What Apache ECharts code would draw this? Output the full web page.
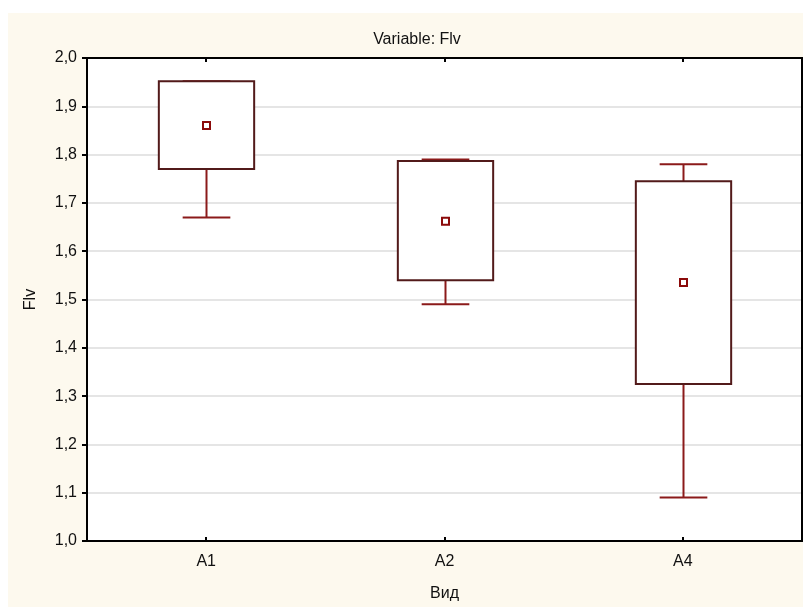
<!DOCTYPE html>
<html>
<head>
<meta charset="utf-8">
<script src="https://cdn.jsdelivr.net/npm/echarts@6/dist/echarts.min.js"></script>
<style>
  html, body { margin: 0; padding: 0; background: #ffffff; width: 803px; height: 607px; overflow: hidden; }
  #chart { position: absolute; left: 8px; top: 13px; width: 795px; height: 594px; background: #fdf9ee; }
</style>
</head>
<body>
<div id="chart"></div>
<script>
// Data
const categories = ['A1', 'A2', 'A4'];
const whiskerLow = [1.67, 1.49, 1.09];
const boxLow     = [1.77, 1.54, 1.325];
const centre     = [1.86, 1.662, 1.535];
const boxHigh    = [1.952, 1.787, 1.745];
const whiskerHigh= [1.952, 1.79, 1.78];
const yTicks = [1.0, 1.1, 1.2, 1.3, 1.4, 1.5, 1.6, 1.7, 1.8, 1.9, 2.0];

const FONT = '"Liberation Sans", Arial, sans-serif';
const chart = echarts.init(document.getElementById('chart'), null, { renderer: 'canvas' });

const seriesData = categories.map((c, i) => [i, whiskerLow[i], boxLow[i], centre[i], boxHigh[i], whiskerHigh[i]]);

function renderItem(params, api) {
  const x = api.value(0);
  const pLow = api.coord([x, api.value(1)]);
  const pQ1 = api.coord([x, api.value(2)]);
  const pMid = api.coord([x, api.value(3)]);
  const pQ3 = api.coord([x, api.value(4)]);
  const pHigh = api.coord([x, api.value(5)]);
  const band = api.size([1, 0])[0];
  const bw = band * 0.4;
  const cw = band * 0.2;
  const cx = Math.round(pMid[0]) + 0.5;
  const whiskerStyle = { stroke: '#8b1a1a', lineWidth: 2, fill: null };
  const children = [];
  if (Math.abs(pLow[1] - pQ1[1]) > 0.5) {
    children.push({ type: 'line', shape: { x1: cx, y1: pQ1[1], x2: cx, y2: pLow[1] }, style: whiskerStyle });
    children.push({ type: 'line', shape: { x1: cx - cw / 2, y1: pLow[1], x2: cx + cw / 2, y2: pLow[1] }, style: whiskerStyle });
  }
  if (Math.abs(pHigh[1] - pQ3[1]) > 0.5) {
    children.push({ type: 'line', shape: { x1: cx, y1: pQ3[1], x2: cx, y2: pHigh[1] }, style: whiskerStyle });
  }
  children.push({ type: 'line', shape: { x1: cx - cw / 2, y1: pHigh[1], x2: cx + cw / 2, y2: pHigh[1] }, style: whiskerStyle, z2: 1 });
  children.push({
    type: 'rect',
    shape: { x: cx - bw / 2, y: pQ3[1], width: bw, height: pQ1[1] - pQ3[1] },
    style: { stroke: '#521a1a', lineWidth: 2, fill: '#ffffff' },
    z2: 2
  });
  children.push({
    type: 'rect',
    shape: { x: cx - 3.5, y: pMid[1] - 3.5, width: 7, height: 7 },
    style: { stroke: '#8b0a0a', lineWidth: 2, fill: '#ffffff' },
    z2: 3
  });
  return { type: 'group', children: children };
}

chart.setOption({
  animation: false,
  backgroundColor: '#fdf9ee',
  title: {
    text: 'Variable: Flv',
    left: 404,
    top: 14,
    textAlign: 'center',
    textStyle: { fontFamily: FONT, fontSize: 16, fontWeight: 'normal', color: '#111111' }
  },
  grid: { left: 79, right: 1, top: 45, bottom: 62, backgroundColor: '#ffffff', show: true, borderWidth: 0 },
  xAxis: [{
    type: 'category',
    data: categories,
    position: 'bottom',
    name: 'Вид',
    nameLocation: 'middle',
    nameGap: 45,
    nameTextStyle: { fontFamily: FONT, fontSize: 16, color: '#111111' },
    axisLine: { lineStyle: { color: '#000000', width: 2 } },
    axisTick: { show: true, alignWithLabel: true, inside: true, length: 4, lineStyle: { color: '#000000', width: 2 } },
    axisLabel: { fontFamily: FONT, fontSize: 16, color: '#111111', margin: 13 },
    splitLine: { show: false }
  }, {
    type: 'category',
    data: categories,
    position: 'top',
    axisLine: { lineStyle: { color: '#000000', width: 2 } },
    axisTick: { show: true, alignWithLabel: true, inside: true, length: 4, lineStyle: { color: '#000000', width: 2 } },
    axisLabel: { show: false },
    splitLine: { show: false }
  }],
  yAxis: [{
    type: 'value',
    min: yTicks[0],
    max: yTicks[yTicks.length - 1],
    interval: 0.1,
    position: 'left',
    name: 'Flv',
    nameLocation: 'middle',
    nameGap: 48,
    nameRotate: 90,
    nameTextStyle: { fontFamily: FONT, fontSize: 16, color: '#111111' },
    axisLine: { show: true, lineStyle: { color: '#000000', width: 2 } },
    axisTick: { show: true, length: 5, lineStyle: { color: '#000000', width: 2 } },
    axisLabel: {
      fontFamily: FONT, fontSize: 16, color: '#111111', margin: 10,
      formatter: v => v.toFixed(1).replace('.', ',')
    },
    splitLine: { show: true, lineStyle: { color: '#dcdcdc', width: 1.5 } }
  }, {
    type: 'value',
    min: yTicks[0],
    max: yTicks[yTicks.length - 1],
    interval: 0.1,
    position: 'right',
    axisLine: { show: true, lineStyle: { color: '#000000', width: 2 } },
    axisTick: { show: true, length: 4, lineStyle: { color: '#000000', width: 2 } },
    axisLabel: { show: false },
    splitLine: { show: false }
  }],
  series: [{
    type: 'custom',
    renderItem: renderItem,
    data: seriesData,
    encode: { x: 0, y: [1, 2, 3, 4, 5] },
    clip: false,
    z: 5
  }]
});
</script>
</body>
</html>
